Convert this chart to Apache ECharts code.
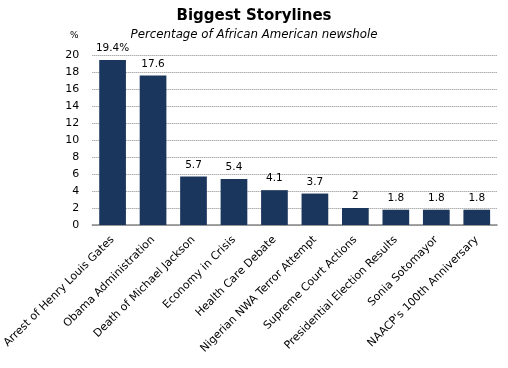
<!DOCTYPE html>
<html><head><meta charset="utf-8">
<script src="https://cdn.jsdelivr.net/npm/echarts@6/dist/echarts.min.js"></script>
<style>html,body{margin:0;padding:0;background:#fff}#c{width:508px;height:368px}</style>
</head><body><div id="c"></div>
<script>
const categories = ["Arrest of Henry Louis Gates","Obama Administration","Death of Michael Jackson","Economy in Crisis","Health Care Debate","Nigerian NWA Terror Attempt","Supreme Court Actions","Presidential Election Results","Sonia Sotomayor","NAACP's 100th Anniversary"];
const values = [19.4, 17.6, 5.7, 5.4, 4.1, 3.7, 2, 1.8, 1.8, 1.8];
const valueLabels = ["19.4%","17.6","5.7","5.4","4.1","3.7","2","1.8","1.8","1.8"];
const yTicks = [0,2,4,6,8,10,12,14,16,18,20];
const font = "DejaVu Sans";
const chart = echarts.init(document.getElementById('c'));
chart.setOption({
  animation:false,
  title:[
    {text:"Biggest Storylines", left:'center', top:4, textStyle:{fontFamily:font,fontWeight:'bold',fontSize:15,color:'#000'}},
    {text:"Percentage of African American newshole", left:'center', top:24, textStyle:{fontFamily:font,fontStyle:'italic',fontWeight:'normal',fontSize:11.8,color:'#000'}},
    {text:"%", left:65, top:26, textStyle:{fontFamily:font,fontWeight:'normal',fontSize:9,color:'#000'}}
  ],
  grid:{left:87, right:11, top:55, bottom:143},
  xAxis:{type:'category', data:categories,
    axisLine:{lineStyle:{color:'#888',width:1.5}}, axisTick:{show:false},
    axisLabel:{rotate:45, interval:0, fontFamily:font, fontSize:11, color:'#000', margin:13}},
  yAxis:{type:'value', min:0, max:20, interval:2,
    axisLine:{show:false}, axisTick:{show:false},
    splitLine:{lineStyle:{type:[1,1], color:'#888'}},
    axisLabel:{fontFamily:font, fontSize:11, color:'#000', margin:13,
      formatter:v=>yTicks.includes(v)?String(v):''}},
  series:[{type:'bar', data:values, barWidth:'66%', itemStyle:{color:'#1B365D'},
    label:{show:true, position:'top', distance:6, fontFamily:font, fontSize:10.5, color:'#000',
      formatter:p=>valueLabels[p.dataIndex]}}]
});
</script></body></html>
